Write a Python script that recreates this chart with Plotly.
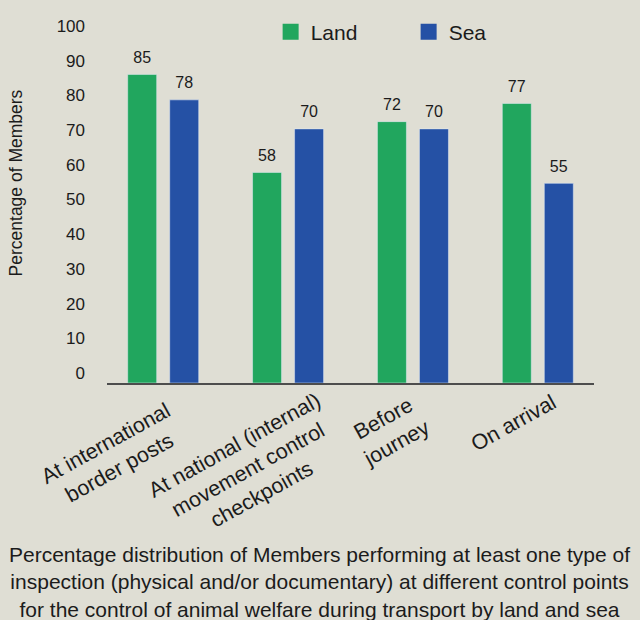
import plotly.graph_objects as go

categories = ["At international<br>border posts",
              "At national (internal)<br>movement control<br>checkpoints",
              "Before<br>journey",
              "On arrival"]
land = [85, 58, 72, 77]
sea = [78, 70, 70, 55]
y_ticks = [0, 10, 20, 30, 40, 50, 60, 70, 80, 90, 100]

# style: pixel offsets of each rotated category label's centre from its category
label_dx = [-51, -40, -23, -24]
label_dy = [-73, -87, -48, -40]

GREEN = "#21a65e"
BLUE = "#2551a5"
BG = "#dfded4"
TXT = "#1b1b1b"
FONT = "Liberation Sans, Arial, sans-serif"

label_tpl = "<span style='font-size:16px'>%{y}</span><br><span style='color:rgba(0,0,0,0)'>.</span>"

fig = go.Figure()
for name, vals, col in (("Land", land, GREEN), ("Sea", sea, BLUE)):
    fig.add_trace(go.Bar(name=name, x=categories, y=vals, marker_color=col,
                         texttemplate=label_tpl, textposition="outside",
                         textfont=dict(size=6, color=TXT, family=FONT),
                         cliponaxis=False, constraintext="none",
                         showlegend=False))
# legend entries with larger square swatches
for name, col in (("Land", GREEN), ("Sea", BLUE)):
    fig.add_trace(go.Scatter(name=name, x=[None], y=[None], mode="markers",
                             marker=dict(symbol="square", size=16, color=col),
                             hoverinfo="skip"))
# helper trace so the tick-label axis is drawn
fig.add_trace(go.Scatter(x=[categories[0]], y=[None], yaxis="y2",
                         showlegend=False, hoverinfo="skip", mode="markers"))

# category labels, centred multi-line, rotated
for c, dx, dy in zip(categories, label_dx, label_dy):
    fig.add_annotation(x=c, xref="x", y=0, yref="paper", xshift=dx, yshift=dy,
                       text=c, showarrow=False, textangle=-29,
                       xanchor="center", yanchor="middle", align="center",
                       font=dict(size=21.5, color=TXT, family=FONT))

fig.add_annotation(text="Percentage of Members", textangle=-90,
                   xref="paper", yref="paper", x=-0.187, y=0.5, yshift=19,
                   xanchor="center", yanchor="middle", showarrow=False,
                   font=dict(size=17.5, color=TXT, family=FONT))

fig.add_annotation(text="Percentage distribution of Members performing at least one type of<br>"
                        "inspection (physical and/or documentary) at different control points<br>"
                        "for the control of animal welfare during transport by land and sea",
                   xref="paper", yref="paper", x=0.437, y=0, yshift=-158,
                   xanchor="center", yanchor="top", showarrow=False, align="center",
                   font=dict(size=21, color=TXT, family=FONT))

fig.update_layout(
    width=640, height=620,
    margin=dict(l=107, r=46, t=20, b=237, autoexpand=False),
    paper_bgcolor=BG, plot_bgcolor=BG,
    barmode="group", bargap=0.327, bargroupgap=0.31,
    font=dict(family=FONT, color=TXT),
    showlegend=True,
    legend=dict(orientation="h", x=0.336, xanchor="left", y=0.967, yanchor="middle",
                font=dict(size=21, color=TXT, family=FONT),
                entrywidth=93, entrywidthmode="pixels",
                bgcolor="rgba(0,0,0,0)", traceorder="normal"),
    xaxis=dict(type="category", range=[-0.45, 3.45], showticklabels=False,
               showline=True, linecolor="#4d4d4d", linewidth=1.5,
               showgrid=False, ticks="", zeroline=False, fixedrange=True),
    yaxis=dict(range=[0, 100], showticklabels=False, showgrid=False,
               zeroline=False, showline=False, ticks=""),
    yaxis2=dict(overlaying="y", side="left", range=[-2.88, 101.73],
                tickvals=y_ticks, ticktext=[str(v) for v in y_ticks],
                showgrid=False, zeroline=False, showline=False, ticks="",
                ticklabelstandoff=21,
                tickfont=dict(size=17, color=TXT, family=FONT)),
)

fig.write_html("out.html", config={"displayModeBar": False},
               post_script="document.body.style.margin='0';")
